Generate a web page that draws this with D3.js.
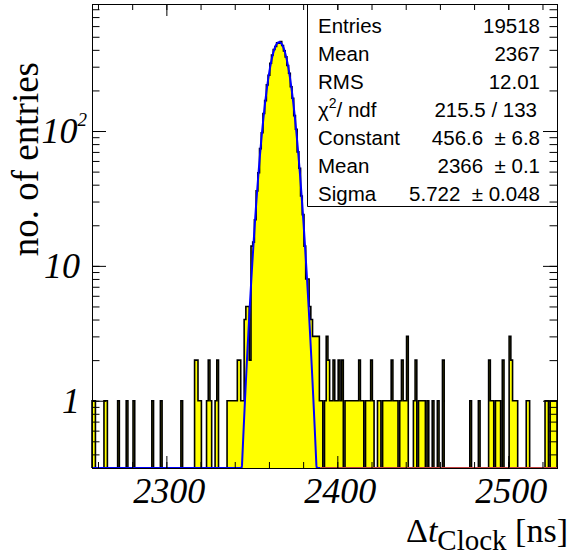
<!DOCTYPE html>
<html>
<head>
<meta charset="utf-8">
<script src="https://cdn.jsdelivr.net/npm/d3@7"></script>
<style>
  body { margin: 0; background: #fff; }
  svg { display: block; }
</style>
</head>
<body>
<div id="chart"></div>
<script>
// histogram of delta t (1 ns bins), first bin centred on 2257 ns
const firstBin = 2257;
const binWidth = 1;
const counts = [
  1, 1, 0, 0, 0, 0, 0, 1, 1, 0,
  0, 0, 0, 0, 0, 1, 0, 0, 0, 0,
  1, 0, 0, 0, 1, 0, 0, 0, 0, 0,
  0, 0, 0, 0, 0, 1, 0, 0, 0, 0,
  1, 0, 0, 0, 0, 0, 0, 0, 0, 0,
  0, 0, 1, 0, 0, 0, 0, 0, 0, 0,
  2, 2, 1, 1, 0, 0, 0, 1, 2, 1,
  0, 0, 1, 2, 0, 0, 0, 0, 0, 1,
  1, 1, 1, 1, 1, 2, 2, 1, 1, 4,
  5, 5, 2, 14, 15, 22, 36, 49, 74, 97,
  135, 168, 220, 259, 318, 366, 402, 424, 452, 448,
  460, 431, 393, 355, 306, 268, 213, 175, 130, 103,
  70, 53, 33, 24, 14, 8, 8, 5, 4, 3,
  3, 3, 3, 1, 1, 0, 1, 3, 2, 1,
  1, 2, 1, 1, 2, 1, 2, 0, 1, 1,
  1, 1, 1, 1, 1, 1, 2, 1, 1, 0,
  1, 1, 1, 2, 1, 0, 0, 1, 1, 0,
  1, 1, 1, 1, 1, 2, 1, 1, 1, 0,
  1, 2, 1, 1, 3, 0, 0, 0, 1, 2,
  0, 1, 1, 1, 1, 0, 1, 0, 0, 1,
  0, 0, 1, 0, 0, 2, 0, 0, 0, 0,
  0, 0, 0, 0, 0, 0, 0, 0, 0, 0,
  0, 1, 0, 0, 0, 0, 1, 0, 0, 0,
  0, 0, 2, 1, 1, 0, 1, 1, 1, 0,
  2, 0, 0, 0, 3, 2, 1, 1, 1, 0,
  0, 0, 0, 0, 1, 1, 0, 0, 0, 0,
  0, 0, 0, 0, 0, 1, 1, 0, 1, 1,
  1, 1
];

// gaus fit result (from the stats box)
const fitConstant = 456.6;
const fitMean = 2366;
const fitSigma = 5.722;

const statLabels = ["Entries", "Mean", "RMS", "chi2", "Constant", "Mean", "Sigma"];
const statValues = ["19518", "2367", "12.01", "215.5 / 133", "456.6  \u00b1 6.8", "2366  \u00b1 0.1", "5.722  \u00b1 0.048"];

const xRange = [2256.5, 2528.5];
const yRange = [0.317, 875];
const xLabelTicks = [2300, 2400, 2500];
const yLabelTicks = [1, 10, 100];
const yLabelText = ["1", "10", "10^2"];

const W = 571, H = 559;
const frame = { left: 92, right: 557, top: 4, bottom: 468 };
const serif = "'Liberation Serif', 'Times New Roman', serif";
const sans = "'Liberation Sans', Arial, Helvetica, sans-serif";

const svg = d3.select("#chart").append("svg")
  .attr("width", W)
  .attr("height", H);

const x = d3.scaleLinear().domain(xRange).range([frame.left, frame.right]);
const y = d3.scaleLog().domain(yRange).range([frame.bottom, frame.top]);

// ---- histogram (stepped, filled) ----
const pts = [[x(xRange[0]), frame.bottom]];
counts.forEach((c, i) => {
  const lo = firstBin + i * binWidth - binWidth / 2;
  const yy = c > 0 ? y(c) : frame.bottom;
  pts.push([x(lo), yy], [x(lo + binWidth), yy]);
});
pts.push([x(xRange[1]), frame.bottom]);

svg.append("path")
  .attr("d", d3.line()(pts))
  .attr("fill", "#ffff00")
  .attr("stroke", "#000")
  .attr("stroke-width", 1.6);

// ---- fit curve, clamped to the bottom of the frame ----
const gaus = v => fitConstant * Math.exp(-0.5 * ((v - fitMean) / fitSigma) ** 2);
const fitX = d3.range(xRange[0], xRange[1] + 0.01, 0.25);
const fitLine = d3.line()
  .x(v => x(v))
  .y(v => y(Math.max(gaus(v), yRange[0])));

svg.append("path")
  .attr("d", fitLine(fitX.filter(v => v <= 2390)))
  .attr("fill", "none")
  .attr("stroke", "#0000ff")
  .attr("stroke-width", 2);
svg.append("path")
  .attr("d", fitLine(fitX.filter(v => v >= 2390)))
  .attr("fill", "none")
  .attr("stroke", "#c04040")
  .attr("stroke-width", 2);

// ---- axes (ticks inside the frame, mirrored) ----
function ticks(axis, tr, size, values) {
  const g = svg.append("g")
    .attr("transform", tr)
    .call(axis.tickValues(values).tickSize(size).tickFormat(""));
  g.select(".domain").remove();
  g.selectAll("line").attr("stroke", "#000");
  return g;
}

const xMinor = x.ticks(14);
const yMinor = y.ticks();

ticks(d3.axisBottom(x), `translate(0,${frame.bottom})`, -6, xMinor);
ticks(d3.axisBottom(x), `translate(0,${frame.bottom})`, -12, xLabelTicks);
ticks(d3.axisTop(x), `translate(0,${frame.top})`, -6, xMinor);
ticks(d3.axisTop(x), `translate(0,${frame.top})`, -12, xLabelTicks);
ticks(d3.axisLeft(y), `translate(${frame.left},0)`, -7.5, yMinor);
ticks(d3.axisLeft(y), `translate(${frame.left},0)`, -14, yLabelTicks);

// ---- stats box ----
const box = { left: 307.5, top: 10, bottom: 206.5 };
svg.append("rect")
  .attr("x", box.left).attr("y", box.top)
  .attr("width", frame.right - box.left).attr("height", box.bottom - box.top)
  .attr("fill", "#fff");
svg.append("path")
  .attr("d", `M${box.left},${frame.top}V${box.bottom}H${frame.right}`)
  .attr("fill", "none").attr("stroke", "#000");

ticks(d3.axisRight(y), `translate(${frame.right},0)`, -7.5, yMinor);
ticks(d3.axisRight(y), `translate(${frame.right},0)`, -14, yLabelTicks);

const rowY = i => 33.3 + i * 27.9;
statLabels.forEach((lab, i) => {
  const t = svg.append("text")
    .attr("x", 318).attr("y", rowY(i))
    .attr("font-family", sans).attr("font-size", 20.5);
  if (lab === "chi2") {
    t.append("tspan").text("\u03c7");
    t.append("tspan").attr("font-size", 14).attr("dy", -9).text("2");
    t.append("tspan").attr("dy", 9).text("/ ndf");
  } else {
    t.text(lab);
  }
});
statValues.forEach((val, i) => {
  svg.append("text")
    .attr("x", i === 3 ? 537 : 540).attr("y", rowY(i))
    .attr("text-anchor", "end")
    .attr("font-family", sans).attr("font-size", 20.5)
    .style("white-space", "pre")
    .text(val);
});

// ---- frame ----
svg.append("rect")
  .attr("x", frame.left + 0.5).attr("y", frame.top + 0.5)
  .attr("width", frame.right - frame.left).attr("height", frame.bottom - frame.top)
  .attr("fill", "none").attr("stroke", "#000").attr("stroke-width", 1);

// ---- tick labels ----
svg.selectAll(".xlab").data(xLabelTicks).enter().append("text")
  .attr("class", "xlab")
  .attr("x", d => x(d) + 3).attr("y", 503)
  .attr("text-anchor", "middle")
  .attr("font-family", serif).attr("font-style", "italic").attr("font-size", 36)
  .text(d => d);

yLabelTicks.forEach((v, i) => {
  const parts = yLabelText[i].split("^");
  const t = svg.append("text")
    .attr("x", parts.length > 1 ? 87 : 80).attr("y", y(v) + 12)
    .attr("text-anchor", "end")
    .attr("font-family", serif).attr("font-style", "italic").attr("font-size", 36);
  t.append("tspan").text(parts[0]);
  if (parts.length > 1) {
    t.append("tspan").attr("font-size", 19).attr("dy", -17).text(parts[1]);
  }
});

// ---- axis titles ----
svg.append("text")
  .attr("transform", "translate(38,62) rotate(-90)")
  .attr("text-anchor", "end")
  .attr("font-family", serif).attr("font-size", 37)
  .text("no. of entries");

const xt = svg.append("text")
  .attr("x", 568).attr("y", 542)
  .attr("text-anchor", "end")
  .attr("font-family", serif).attr("font-size", 34);
xt.append("tspan").text("\u0394");
xt.append("tspan").attr("font-style", "italic").text("t");
xt.append("tspan").attr("font-size", 29).attr("dy", 8).text("Clock");
xt.append("tspan").attr("dy", -8).style("white-space", "pre").text(" [ns]");
</script>
</body>
</html>
